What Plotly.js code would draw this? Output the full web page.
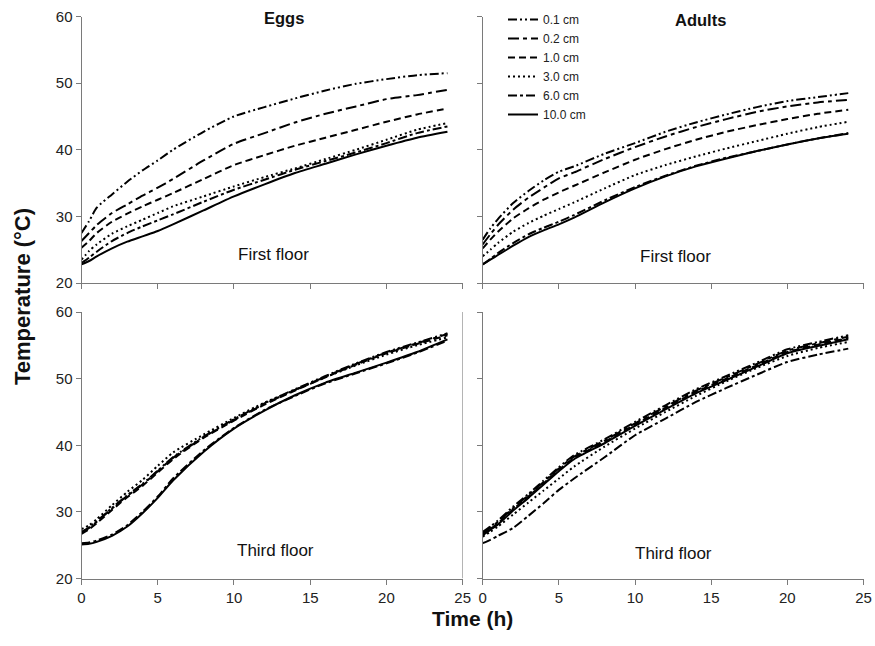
<!DOCTYPE html>
<html>
<head>
<meta charset="utf-8">
<script src="https://cdn.plot.ly/plotly-3.0.1.min.js"></script>
<style>html,body{margin:0;padding:0;background:#fff;}#chart{width:875px;height:646px;}</style>
</head>
<body>
<div id="chart"></div>
<script>
// Time (h)
var hours = [0, 0.5, 1, 2, 3, 4, 5, 6, 8, 10, 12, 14, 16, 18, 20, 22, 24];

// Series names
var seriesNames = ["0.1 cm", "0.2 cm", "1.0 cm", "3.0 cm", "6.0 cm", "10.0 cm"];

// Eggs, first floor
var eggsFirst_01 = [27.5, 29.3, 31.3, 33.3, 35.2, 36.9, 38.4, 40.0, 42.7, 45.0, 46.4, 47.7, 48.9, 49.9, 50.6, 51.2, 51.5];
var eggsFirst_02 = [26.3, 27.5, 28.7, 30.5, 31.8, 33.1, 34.3, 35.6, 38.4, 40.9, 42.5, 44.1, 45.4, 46.5, 47.6, 48.2, 49.0];
var eggsFirst_10 = [25.3, 26.3, 27.5, 29.2, 30.4, 31.5, 32.5, 33.5, 35.6, 37.7, 39.2, 40.6, 41.8, 43.0, 44.2, 45.3, 46.2];
var eggsFirst_30 = [23.5, 24.8, 25.8, 27.4, 28.5, 29.5, 30.5, 31.5, 33.0, 34.5, 35.9, 37.2, 38.6, 40.0, 41.5, 43.0, 44.0];
var eggsFirst_60 = [23.0, 23.8, 24.7, 26.3, 27.5, 28.5, 29.4, 30.3, 32.2, 34.0, 35.5, 37.0, 38.3, 39.6, 41.0, 42.5, 43.5];
var eggsFirst_100 = [22.8, 23.3, 24.0, 25.2, 26.2, 27.0, 27.8, 28.8, 30.9, 33.0, 34.8, 36.5, 37.9, 39.3, 40.6, 41.8, 42.7];

// Adults, first floor
var adultsFirst_01 = [26.5, 28.2, 29.6, 32.0, 33.8, 35.4, 36.7, 37.5, 39.4, 41.0, 42.7, 44.1, 45.3, 46.4, 47.3, 47.9, 48.5];
var adultsFirst_02 = [25.8, 27.3, 28.7, 31.0, 32.8, 34.3, 35.7, 36.6, 38.6, 40.4, 42.0, 43.4, 44.6, 45.7, 46.5, 47.1, 47.5];
var adultsFirst_10 = [25.2, 26.5, 27.7, 29.7, 31.2, 32.5, 33.6, 34.6, 36.6, 38.5, 40.1, 41.5, 42.7, 43.7, 44.6, 45.4, 46.0];
var adultsFirst_30 = [24.0, 25.0, 26.0, 27.7, 29.0, 30.1, 31.1, 32.1, 34.2, 36.2, 37.7, 39.0, 40.2, 41.3, 42.4, 43.4, 44.2];
var adultsFirst_60 = [22.8, 23.6, 24.5, 26.0, 27.3, 28.3, 29.2, 30.2, 32.4, 34.4, 36.1, 37.6, 38.8, 39.8, 40.8, 41.7, 42.5];
var adultsFirst_100 = [22.8, 23.5, 24.2, 25.6, 26.9, 27.9, 28.8, 29.8, 32.1, 34.2, 36.0, 37.5, 38.7, 39.8, 40.8, 41.7, 42.4];

// Eggs, third floor
var eggsThird_01 = [27.0, 27.7, 28.6, 30.6, 32.5, 34.2, 36.2, 38.2, 41.3, 43.9, 46.3, 48.4, 50.4, 52.3, 54.0, 55.4, 56.8];
var eggsThird_02 = [26.9, 27.6, 28.5, 30.5, 32.4, 34.1, 36.1, 38.1, 41.2, 43.8, 46.2, 48.3, 50.3, 52.2, 53.9, 55.3, 56.7];
var eggsThird_10 = [26.7, 27.4, 28.3, 30.3, 32.2, 33.9, 35.9, 37.9, 41.1, 43.7, 46.1, 48.2, 50.2, 52.1, 53.8, 55.2, 56.5];
var eggsThird_30 = [27.4, 28.0, 28.9, 31.0, 33.0, 34.8, 36.9, 38.9, 41.6, 44.1, 46.4, 48.3, 50.2, 52.0, 53.6, 55.0, 56.2];
var eggsThird_60 = [25.3, 25.4, 25.7, 26.6, 28.0, 30.0, 32.3, 35.0, 39.2, 42.6, 45.3, 47.4, 49.3, 50.8, 52.3, 53.9, 55.7];
var eggsThird_100 = [25.1, 25.2, 25.5, 26.4, 27.8, 29.8, 32.1, 34.7, 39.0, 42.5, 45.2, 47.5, 49.4, 50.9, 52.4, 54.0, 55.9];

// Adults, third floor
var adultsThird_01 = [27.0, 27.8, 28.7, 30.8, 32.7, 34.7, 36.7, 38.5, 40.9, 43.5, 46.0, 48.4, 50.4, 52.4, 54.4, 55.5, 56.5];
var adultsThird_02 = [26.8, 27.6, 28.5, 30.6, 32.5, 34.5, 36.5, 38.3, 40.7, 43.3, 45.8, 48.2, 50.2, 52.2, 54.2, 55.3, 56.3];
var adultsThird_10 = [26.6, 27.4, 28.3, 30.4, 32.3, 34.3, 36.3, 38.1, 40.5, 43.1, 45.6, 48.0, 50.0, 52.0, 54.0, 55.1, 56.1];
var adultsThird_30 = [26.3, 27.0, 27.8, 29.6, 31.4, 33.2, 35.0, 36.8, 39.8, 42.5, 45.0, 47.4, 49.6, 51.6, 53.4, 54.6, 55.5];
var adultsThird_60 = [25.3, 25.8, 26.4, 27.6, 29.4, 31.3, 33.3, 35.0, 38.2, 41.5, 44.0, 46.5, 48.6, 50.6, 52.5, 53.6, 54.5];
var adultsThird_100 = [26.5, 27.3, 28.1, 30.2, 32.1, 34.1, 36.1, 37.9, 40.3, 42.9, 45.4, 47.8, 49.8, 51.8, 53.8, 54.9, 55.9];

// Panel text
var panelTitles = ["Eggs", "Adults"];
var floorLabels = ["First floor", "Third floor"];
var xTitle = "Time (h)";
var yTitle = "Temperature (°C)";

var dashes = ["9px,3px,2px,3px,2px,3px", "11px,4px,4px,4px", "7px,4px", "2px,3px", "9px,3px,3px,3px", "solid"];

var panels = [
  {xa: "x", ya: "y", data: [eggsFirst_01, eggsFirst_02, eggsFirst_10, eggsFirst_30, eggsFirst_60, eggsFirst_100]},
  {xa: "x2", ya: "y2", data: [adultsFirst_01, adultsFirst_02, adultsFirst_10, adultsFirst_30, adultsFirst_60, adultsFirst_100]},
  {xa: "x3", ya: "y3", data: [eggsThird_01, eggsThird_02, eggsThird_10, eggsThird_30, eggsThird_60, eggsThird_100]},
  {xa: "x4", ya: "y4", data: [adultsThird_01, adultsThird_02, adultsThird_10, adultsThird_30, adultsThird_60, adultsThird_100]}
];

var traces = [];
panels.forEach(function (p, pi) {
  p.data.forEach(function (vals, si) {
    traces.push({
      type: "scatter", mode: "lines",
      x: hours, y: vals,
      xaxis: p.xa, yaxis: p.ya,
      name: seriesNames[si],
      legendgroup: seriesNames[si],
      showlegend: pi === 1,
      line: {color: "#000", width: 2, dash: dashes[si], shape: "spline", smoothing: 0.6},
      hoverinfo: "skip"
    });
  });
});

var W = 875, H = 646;
function px(a, b) { return [a / W, b / W]; }
function py(top, bottom) { return [(H - bottom) / H, (H - top) / H]; }

var axisColor = "#7a7a7a";
var tickFont = {family: "Liberation Sans, Arial, sans-serif", size: 15, color: "#222"};
var xTickFont = {family: "Liberation Sans Narrow, Arial Narrow, Liberation Sans, Arial, sans-serif", size: 15, color: "#222"};

function xAxis(domain, anchor, showLabels) {
  return {
    domain: domain, anchor: anchor, range: [0, 25], dtick: 5, tick0: 0,
    showgrid: false, zeroline: false, showline: true, linecolor: axisColor, linewidth: 1,
    ticks: "outside", ticklen: 5, tickcolor: axisColor, tickwidth: 1,
    showticklabels: showLabels, tickfont: xTickFont, fixedrange: true
  };
}
function yAxis(domain, anchor, showLabels) {
  return {
    domain: domain, anchor: anchor, range: [20, 60], dtick: 10, tick0: 20,
    showgrid: false, zeroline: false, showline: true, linecolor: axisColor, linewidth: 1,
    ticks: "outside", ticklen: 5, tickcolor: axisColor, tickwidth: 1,
    showticklabels: showLabels, tickfont: tickFont, fixedrange: true
  };
}

var xL = px(81.5, 462.7), xR = px(482.7, 863.5);
var yT = py(16.5, 283), yB = py(312, 578.5);

var textFont = {family: "Liberation Sans, Arial, sans-serif", color: "#111"};

function label(text, cx, cy, size, extra) {
  var a = {
    text: text, xref: "paper", yref: "paper", x: cx / W, y: 1 - cy / H,
    xanchor: "center", yanchor: "middle", showarrow: false,
    font: Object.assign({size: size}, textFont)
  };
  return Object.assign(a, extra || {});
}

var layout = {
  width: W, height: H,
  margin: {l: 0, r: 0, t: 0, b: 0},
  paper_bgcolor: "#fff", plot_bgcolor: "rgba(0,0,0,0)",
  showlegend: true,
  legend: {
    x: 503 / W, y: 1 - 5 / H, xanchor: "left", yanchor: "top",
    bgcolor: "rgba(0,0,0,0)", borderwidth: 0,
    font: {family: "Liberation Sans, Arial, sans-serif", size: 12, color: "#222"},
    tracegroupgap: 0, itemwidth: 30
  },
  xaxis: xAxis(xL, "y", false),
  yaxis: yAxis(yT, "x", true),
  xaxis2: xAxis(xR, "y2", false),
  yaxis2: yAxis(yT, "x2", false),
  xaxis3: xAxis(xL, "y3", true),
  yaxis3: yAxis(yB, "x3", true),
  xaxis4: xAxis(xR, "y4", true),
  yaxis4: yAxis(yB, "x4", false),
  shapes: [
    {type: "line", xref: "x3", yref: "y3", x0: 25, x1: 25, y0: 20, y1: 60, line: {color: axisColor, width: 1}}
  ],
  annotations: [
    label("<b>" + panelTitles[0] + "</b>", 284, 18, 16.5),
    label("<b>" + panelTitles[1] + "</b>", 700, 20, 16.5),
    label(floorLabels[0], 273, 254, 17),
    label(floorLabels[0], 675, 257, 17),
    label(floorLabels[1], 275, 550, 17),
    label(floorLabels[1], 673, 553, 17),
    label("<b>" + yTitle + "</b>", 22, 297, 22, {textangle: -90}),
    label("<b>" + xTitle + "</b>", 472, 618, 21, {font: {family: "Liberation Sans Narrow, Arial Narrow, Liberation Sans, Arial, sans-serif", size: 21, color: "#111"}})
  ]
};

Plotly.newPlot("chart", traces, layout, {displayModeBar: false, staticPlot: true});
</script>
</body>
</html>
